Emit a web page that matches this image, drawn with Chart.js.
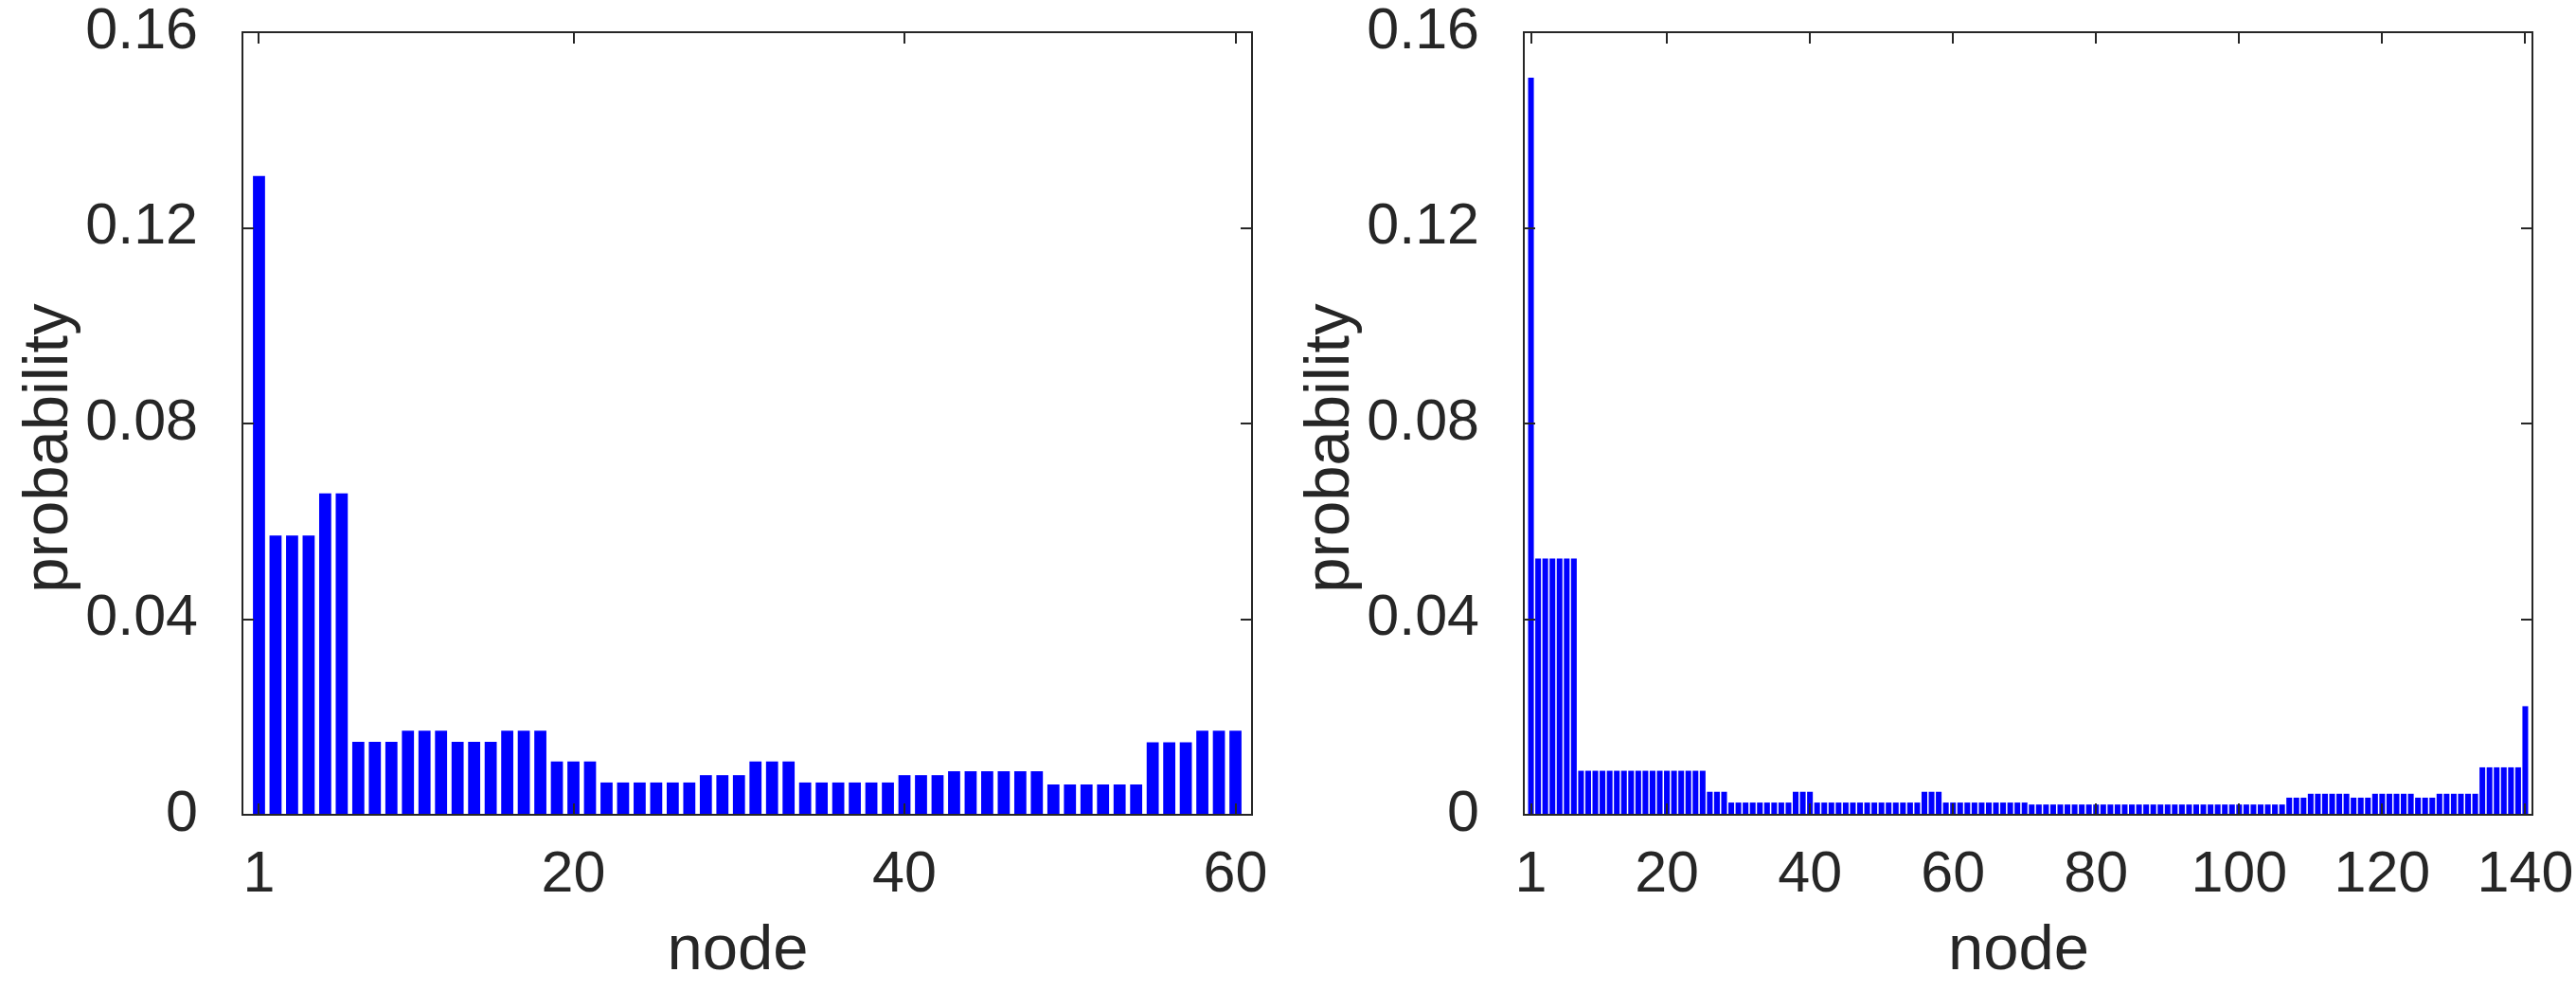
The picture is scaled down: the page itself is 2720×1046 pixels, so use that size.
<!DOCTYPE html>
<html>
<head>
<meta charset="utf-8">
<title>node probability</title>
<script src="https://cdn.jsdelivr.net/npm/chart.js@4.4.1/dist/chart.umd.min.js"></script>
<style>
  body { margin: 0; background: #fff; }
  canvas { position: absolute; top: 0; }
  #left { left: 0; }
  #right { left: 1360px; }
</style>
</head>
<body>
<canvas id="left" width="1360" height="1046"></canvas>
<canvas id="right" width="1360" height="1046"></canvas>
<script>
// probability per node
const probLeft = [
    0.1306,
    0.0571, 0.0571, 0.0571,
    0.0657, 0.0657,
    0.0149, 0.0149, 0.0149,
    0.0172, 0.0172, 0.0172,
    0.0149, 0.0149, 0.0149,
    0.0172, 0.0172, 0.0172,
    0.0109, 0.0109, 0.0109,
    0.0066, 0.0066, 0.0066, 0.0066, 0.0066, 0.0066,
    0.0081, 0.0081, 0.0081,
    0.0109, 0.0109, 0.0109,
    0.0066, 0.0066, 0.0066, 0.0066, 0.0066, 0.0066,
    0.0081, 0.0081, 0.0081,
    0.0089, 0.0089, 0.0089, 0.0089, 0.0089, 0.0089,
    0.0062, 0.0062, 0.0062, 0.0062, 0.0062, 0.0062,
    0.0148, 0.0148, 0.0148,
    0.0172, 0.0172, 0.0172
];

const probRight = [
    0.1507,
    0.0524, 0.0524, 0.0524, 0.0524, 0.0524, 0.0524,
    // 8 - 25
    0.0090, 0.0090, 0.0090, 0.0090, 0.0090, 0.0090, 0.0090, 0.0090, 0.0090,
    0.0090, 0.0090, 0.0090, 0.0090, 0.0090, 0.0090, 0.0090, 0.0090, 0.0090,
    0.0047, 0.0047, 0.0047,
    // 29 - 37
    0.0025, 0.0025, 0.0025, 0.0025, 0.0025, 0.0025, 0.0025, 0.0025, 0.0025,
    0.0047, 0.0047, 0.0047,
    // 41 - 55
    0.0025, 0.0025, 0.0025, 0.0025, 0.0025, 0.0025, 0.0025, 0.0025,
    0.0025, 0.0025, 0.0025, 0.0025, 0.0025, 0.0025, 0.0025,
    0.0047, 0.0047, 0.0047,
    // 59 - 70
    0.0025, 0.0025, 0.0025, 0.0025, 0.0025, 0.0025,
    0.0025, 0.0025, 0.0025, 0.0025, 0.0025, 0.0025,
    // 71 - 106
    0.0021, 0.0021, 0.0021, 0.0021, 0.0021, 0.0021, 0.0021, 0.0021, 0.0021,
    0.0021, 0.0021, 0.0021, 0.0021, 0.0021, 0.0021, 0.0021, 0.0021, 0.0021,
    0.0021, 0.0021, 0.0021, 0.0021, 0.0021, 0.0021, 0.0021, 0.0021, 0.0021,
    0.0021, 0.0021, 0.0021, 0.0021, 0.0021, 0.0021, 0.0021, 0.0021, 0.0021,
    0.0035, 0.0035, 0.0035,
    0.0043, 0.0043, 0.0043, 0.0043, 0.0043, 0.0043,
    0.0035, 0.0035, 0.0035,
    0.0043, 0.0043, 0.0043, 0.0043, 0.0043, 0.0043,
    0.0035, 0.0035, 0.0035,
    0.0043, 0.0043, 0.0043, 0.0043, 0.0043, 0.0043,
    // 134 - 140
    0.0097, 0.0097, 0.0097, 0.0097, 0.0097, 0.0097,
    0.0222
];

const xTicksLeft = [1, 20, 40, 60];
const xTicksRight = [1, 20, 40, 60, 80, 100, 120, 140];
const yTicks = [0, 0.04, 0.08, 0.12, 0.16];
const yTickLabels = ['0', '0.04', '0.08', '0.12', '0.16'];
const xTitle = 'node';
const yTitle = 'probability';

const ink = '#262626';
const fontFamily = "'Liberation Sans', Arial, Helvetica, sans-serif";

// MATLAB style box with inward ticks on all four sides, plus axis labels
const boxPlugin = {
    id: 'matlabBox',
    afterDraw(chart) {
        const ctx = chart.ctx;
        const a = chart.chartArea;
        const xs = chart.scales.x;
        const ys = chart.scales.y;
        const tick = 12;

        ctx.save();
        ctx.strokeStyle = ink;
        ctx.lineWidth = 2;
        ctx.strokeRect(a.left, a.top, a.right - a.left, a.bottom - a.top);

        ctx.beginPath();
        xs.ticks.forEach(t => {
            const px = Math.round(xs.getPixelForValue(t.value));
            ctx.moveTo(px, a.bottom);
            ctx.lineTo(px, a.bottom - tick);
            ctx.moveTo(px, a.top);
            ctx.lineTo(px, a.top + tick);
        });
        ys.ticks.forEach(t => {
            const py = Math.round(ys.getPixelForValue(t.value));
            ctx.moveTo(a.left, py);
            ctx.lineTo(a.left + tick, py);
            ctx.moveTo(a.right, py);
            ctx.lineTo(a.right - tick, py);
        });
        ctx.stroke();

        ctx.fillStyle = ink;
        ctx.font = '67px ' + fontFamily;
        ctx.textAlign = 'center';
        ctx.textBaseline = 'alphabetic';
        ctx.fillText(xTitle, (a.left + a.right) / 2 - 10, a.bottom + 163);

        ctx.translate(a.left - 185, (a.top + a.bottom) / 2 + 26);
        ctx.rotate(-Math.PI / 2);
        ctx.fillText(yTitle, 0, 0);
        ctx.restore();
    }
};

function createChart(id, probs, xTicks, xMax, barPct, yAxisWidth, padRight) {
    const ctx = document.getElementById(id).getContext('2d');
    return new Chart(ctx, {
        type: 'bar',
        data: {
            datasets: [
                {
                    data: probs.map((p, i) => ({ x: i + 1, y: p })),
                    backgroundColor: '#0000ff',
                    borderWidth: 0,
                    barPercentage: barPct,
                    categoryPercentage: 1
                }
            ]
        },
        options: {
            responsive: false,
            animation: false,
            devicePixelRatio: 1,
            layout: {
                padding: { left: 0, top: 34, right: padRight, bottom: 0 }
            },
            plugins: {
                legend: { display: false },
                tooltip: { enabled: false }
            },
            scales: {
                x: {
                    type: 'linear',
                    min: 0,
                    max: xMax,
                    offset: false,
                    grid: { display: false, offset: false },
                    border: { display: false },
                    afterBuildTicks: scale => {
                        scale.ticks = xTicks.map(v => ({ value: v }));
                    },
                    afterFit: scale => {
                        scale.height = 186;
                        scale.paddingLeft = 0;
                        scale.paddingRight = 0;
                    },
                    ticks: {
                        autoSkip: false,
                        maxRotation: 0,
                        padding: 20,
                        color: ink,
                        font: { family: fontFamily, size: 61 },
                        callback: v => String(v)
                    }
                },
                y: {
                    min: 0,
                    max: 0.16,
                    grid: { display: false },
                    border: { display: false },
                    afterBuildTicks: scale => {
                        scale.ticks = yTicks.map(v => ({ value: v }));
                    },
                    afterFit: scale => {
                        scale.width = yAxisWidth;
                        scale.paddingTop = 0;
                        scale.paddingBottom = 0;
                    },
                    ticks: {
                        padding: 39,
                        color: ink,
                        font: { family: fontFamily, size: 61 },
                        callback: (v, i) => yTickLabels[i]
                    }
                }
            }
        },
        plugins: [boxPlugin]
    });
}

createChart('left', probLeft, xTicksLeft, 61, 0.73, 256, 38);
createChart('right', probRight, xTicksRight, 141, 0.8, 249, 46);
</script>
</body>
</html>
